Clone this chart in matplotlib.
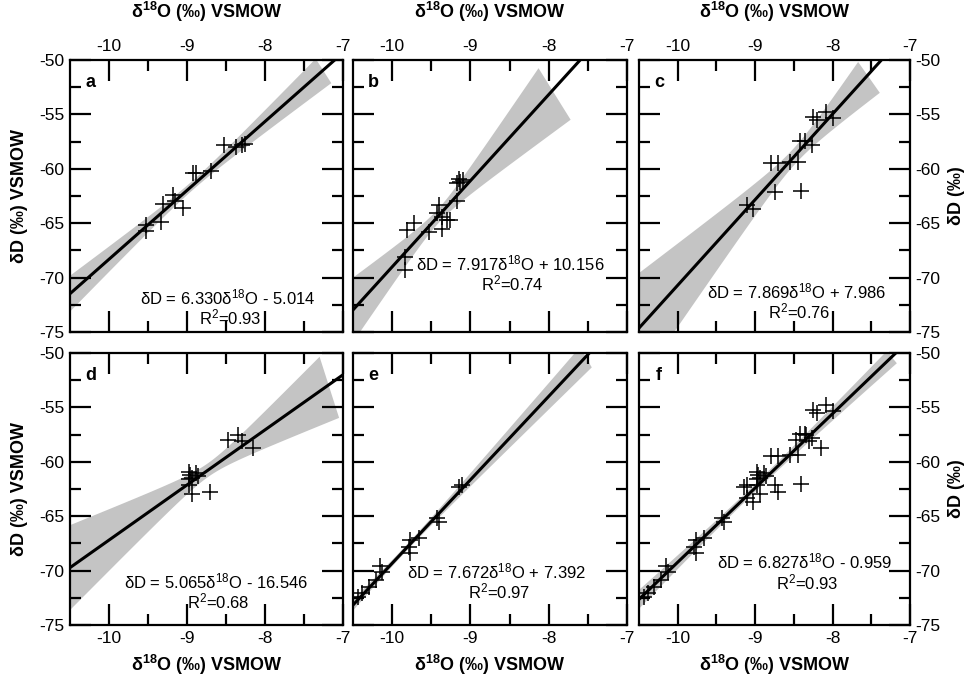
import matplotlib.pyplot as plt
import numpy as np

# d18O / dD pairs
a_x = [-9.53, -9.52, -9.33, -9.31, -9.18, -9.16, -9.05, -8.92, -8.88, -8.69, -8.52, -8.37, -8.30, -8.26]
a_y = [-65.2, -65.7, -64.9, -63.2, -62.4, -63.0, -63.6, -60.4, -60.4, -60.2, -57.8, -58.0, -57.8, -57.7]

b_x = [-9.15, -9.13, -9.17, -9.10, -9.17, -9.40, -9.43, -9.36, -9.30, -9.26, -9.36, -9.53, -9.72, -9.81, -9.83, -9.83]
b_y = [-60.9, -61.2, -61.3, -61.0, -63.0, -63.3, -64.1, -64.4, -64.7, -64.7, -65.5, -65.8, -65.0, -65.6, -68.1, -69.3]

c_x = [-8.25, -8.20, -8.08, -8.00, -8.42, -8.36, -8.27, -8.79, -8.71, -8.55, -8.45, -8.75, -8.41, -9.11, -9.03]
c_y = [-55.2, -55.5, -54.8, -55.3, -57.4, -57.4, -57.8, -59.5, -59.5, -59.4, -59.4, -62.1, -62.0, -63.3, -63.7]

d_x = [-8.98, -8.96, -8.88, -8.94, -8.98, -8.86, -8.94, -8.71, -8.47, -8.34, -8.30, -8.15, -8.98]
d_y = [-60.9, -61.2, -61.0, -61.5, -62.1, -61.3, -63.0, -62.8, -58.0, -57.5, -58.1, -58.7, -61.6]

e_x = [-9.15, -9.11, -9.43, -9.40, -9.77, -9.66, -9.79, -9.77, -10.15, -10.13, -10.21, -10.30, -10.38, -10.43]
e_y = [-62.3, -62.1, -65.2, -65.5, -67.2, -67.0, -67.8, -68.4, -69.6, -70.1, -70.9, -71.5, -72.1, -72.4]

# panel f pools c, d and e
f_x = c_x + d_x + e_x
f_y = c_y + d_y + e_y

letters = ['a', 'b', 'c', 'd', 'e', 'f']
slopes = [6.330, 7.917, 7.869, 5.065, 7.672, 6.827]
intercepts = [-5.014, 10.156, 7.986, -16.546, 7.392, -0.959]
r2 = ['0.93', '0.74', '0.76', '0.68', '0.97', '0.93']
xs_all = [a_x, b_x, c_x, d_x, e_x, f_x]
ys_all = [a_y, b_y, c_y, d_y, e_y, f_y]

# where the equation sits (data coords) and where the band stops (upper, lower edge)
eq_pos = [(-8.48, -71.8), (-8.49, -68.7), (-8.46, -71.3), (-8.63, -71.0), (-8.66, -70.1), (-8.36, -69.2)]
band_end = [(-7.35, -7.15), (-8.13, -7.72), (-7.67, -7.39), (-7.30, -7.05), (-7.60, -7.45), (-7.30, -7.17)]

plt.rcParams['font.family'] = 'Liberation Sans'
plt.rcParams['mathtext.fontset'] = 'custom'
plt.rcParams['mathtext.rm'] = 'Liberation Sans'
plt.rcParams['mathtext.bf'] = 'Liberation Sans:bold'
plt.rcParams['mathtext.it'] = 'Liberation Sans:italic'
plt.rcParams['axes.unicode_minus'] = False

W, H = 971, 678
fig = plt.figure(figsize=(W / 100, H / 100), dpi=100)


def box(l, t, r, b):
    return [l / W, 1 - b / H, (r - l) / W, (b - t) / H]


def conf_halfwidth(x, y, slope, icpt, xx, t=2.1):
    x = np.asarray(x)
    y = np.asarray(y)
    n = len(x)
    xm = x.mean()
    sxx = ((x - xm) ** 2).sum()
    res = y - (slope * x + icpt)
    s = np.sqrt((res ** 2).sum() / (n - 2))
    return t * s * np.sqrt(1 / n + (xx - xm) ** 2 / sxx)


cols = [(70, 343), (353, 627), (639, 910)]
rows = [(60, 332), (353, 625)]

for i in range(6):
    r, c = divmod(i, 3)
    ax = fig.add_axes(box(cols[c][0], rows[r][0], cols[c][1], rows[r][1]))
    x, y = xs_all[i], ys_all[i]
    k, b0 = slopes[i], intercepts[i]

    # confidence band
    xu_end, xl_end = band_end[i]
    xu = np.linspace(-10.7, xu_end, 200)
    xl = np.linspace(-10.7, xl_end, 200)
    upper = k * xu + b0 + conf_halfwidth(x, y, k, b0, xu)
    lower = k * xl + b0 - conf_halfwidth(x, y, k, b0, xl)
    px = np.concatenate([xu, xl[::-1]])
    py = np.concatenate([upper, lower[::-1]])
    ax.fill(px, py, color='#c4c4c4', lw=0, zorder=1)

    xx = np.array([-10.7, -6.8])
    ax.plot(xx, k * xx + b0, color='black', lw=2.2, zorder=3)
    ax.plot(x, y, '+', color='black', ms=11, mew=1.1, zorder=2)

    ax.set_xlim(-10.5, -7)
    ax.set_ylim(-75, -50)
    ax.set_xticks([-10, -9, -8, -7])
    ax.set_xticks([-9.5, -8.5, -7.5], minor=True)
    ax.set_yticks([-75, -70, -65, -60, -55, -50])
    ax.set_yticks([-72.5, -67.5, -62.5, -57.5, -52.5], minor=True)
    ax.tick_params(which='both', direction='in', top=True, right=True, width=1.6,
                   labelsize=12.5, labelleft=(c == 0), labelright=(c == 2),
                   labeltop=(r == 0), labelbottom=(r == 1), pad=4)
    ax.tick_params(which='major', length=15)
    ax.tick_params(which='minor', length=8)
    for sp in ax.spines.values():
        sp.set_linewidth(1.6)

    ax.text(-10.24, -52.1, letters[i], fontsize=13, fontweight='bold', ha='center', va='center')
    ex, ey = eq_pos[i]
    sign = '+' if b0 >= 0 else '-'
    ax.text(ex, ey, 'δD = %.3fδ$^{18}$O %s %.3f' % (k, sign, abs(b0)), fontsize=12, ha='center', va='center')
    ax.text(ex + 0.03, ey - 1.85, 'R$^2$=' + r2[i], fontsize=12, ha='center', va='center')

xlab = r'$\mathbf{\delta^{18}O}$ (‰) VSMOW'
for c in range(3):
    cx = (cols[c][0] + cols[c][1]) / 2 / W
    fig.text(cx, 1 - 12 / H, xlab, ha='center', va='center', fontsize=13, fontweight='bold')
    fig.text(cx, 1 - 665 / H, xlab, ha='center', va='center', fontsize=13, fontweight='bold')
for r in range(2):
    cy = 1 - (rows[r][0] + rows[r][1]) / 2 / H
    fig.text(20 / W, cy, 'δD (‰) VSMOW', rotation=90, ha='center', va='center', fontsize=13, fontweight='bold')
    fig.text(956 / W, cy, 'δD (‰)', rotation=90, ha='center', va='center', fontsize=13, fontweight='bold')

fig.savefig('out.png', dpi=100)
